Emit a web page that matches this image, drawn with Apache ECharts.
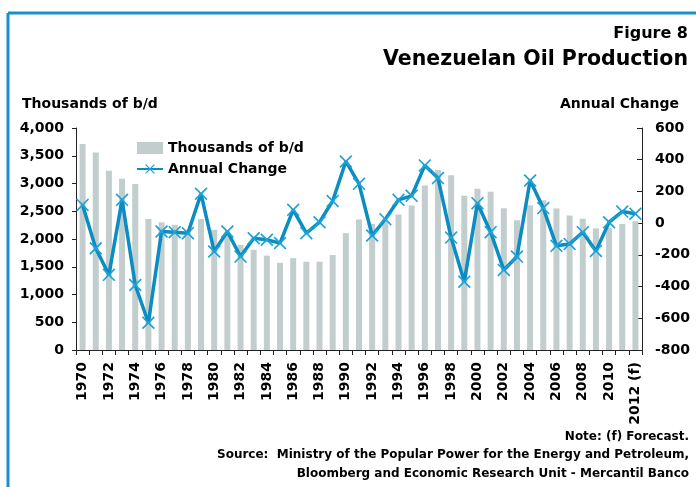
<!DOCTYPE html>
<html>
<head>
<meta charset="utf-8">
<script src="https://cdn.jsdelivr.net/npm/echarts@6/dist/echarts.min.js"></script>
<style>
  html, body { margin: 0; padding: 0; background: #fff; }
  #chart { width: 696px; height: 487px; }
</style>
</head>
<body>
<div id="chart"></div>
<script>
// Venezuelan oil production, 1970-2012 (2012 forecast)
const years = ['1970','1971','1972','1973','1974','1975','1976','1977','1978','1979',
  '1980','1981','1982','1983','1984','1985','1986','1987','1988','1989',
  '1990','1991','1992','1993','1994','1995','1996','1997','1998','1999',
  '2000','2001','2002','2003','2004','2005','2006','2007','2008','2009',
  '2010','2011','2012 (f)'];

// Thousands of barrels per day
const production = [3710, 3560, 3230, 3085, 2990, 2360, 2300, 2255, 2165, 2360,
  2165, 2110, 1895, 1805, 1700, 1570, 1655, 1590, 1590, 1710,
  2105, 2350, 2270, 2305, 2440, 2605, 2965, 3245, 3150, 2780,
  2905, 2850, 2555, 2340, 2610, 2700, 2550, 2425, 2365, 2190,
  2200, 2270, 2320];

// Annual change, thousands of b/d
const annualChange = [115, -158, -326, 147, -390, -628, -53, -57, -63, 185,
  -179, -53, -211, -95, -105, -126, 84, -63, 6, 140,
  389, 248, -78, 25, 147, 172, 364, 284, -91, -369,
  126, -57, -295, -211, 269, 95, -143, -131, -57, -175,
  6, 73, 59];

const leftTicks = { min: 0, max: 4000, interval: 500 };
const rightTicks = { min: -800, max: 600, interval: 200 };

const FONT = 'DejaVu Sans';
const BLUE = '#0b8dc3';
const BAR = '#c2cdcd';
const AXIS = '#222';

const chart = echarts.init(document.getElementById('chart'), null, { renderer: 'canvas' });

const xMarker = 'path://M0,1.1L1.1,0L12,10.9L10.9,12Z M10.9,0L12,1.1L1.1,12L0,10.9Z';

chart.setOption({
  backgroundColor: '#fff',
  animation: false,
  textStyle: { fontFamily: FONT, fontWeight: 'bold', color: '#000' },
  grid: { left: 76, right: 54, top: 128, bottom: 137 },
  legend: {
    orient: 'vertical',
    left: 131,
    top: 136,
    itemWidth: 26,
    itemHeight: 12,
    itemGap: 7,
    textStyle: { fontFamily: FONT, fontWeight: 'bold', fontSize: 14, color: '#000' },
    data: [{ name: 'Thousands of b/d', icon: 'rect' }, 'Annual Change']
  },
  graphic: [
    { type: 'line', shape: { x1: 8, y1: 13, x2: 700, y2: 13 }, style: { stroke: '#1b8fc8', lineWidth: 3 } },
    { type: 'line', shape: { x1: 8, y1: 13, x2: 8, y2: 495 }, style: { stroke: '#1b8fc8', lineWidth: 3 } },
    { type: 'text', right: 8, top: 26, style: { text: 'Figure 8', font: 'bold 16px "DejaVu Sans"', fill: '#000' } },
    { type: 'text', right: 8, top: 49, style: { text: 'Venezuelan Oil Production', font: 'bold 20.5px "DejaVu Sans"', fill: '#000' } },
    { type: 'text', left: 22, top: 97, style: { text: 'Thousands of b/d', font: 'bold 14px "DejaVu Sans"', fill: '#000' } },
    { type: 'text', right: 17, top: 97, style: { text: 'Annual Change', font: 'bold 14px "DejaVu Sans"', fill: '#000' } },
    { type: 'text', right: 7, top: 431, style: { text: 'Note: (f) Forecast.', font: 'bold 12px "DejaVu Sans"', fill: '#000' } },
    { type: 'text', right: 7, top: 449, style: { text: 'Source:  Ministry of the Popular Power for the Energy and Petroleum,', font: 'bold 12px "DejaVu Sans"', fill: '#000' } },
    { type: 'text', right: 7, top: 468, style: { text: 'Bloomberg and Economic Research Unit - Mercantil Banco', font: 'bold 12px "DejaVu Sans"', fill: '#000' } }
  ],
  xAxis: {
    type: 'category',
    data: years,
    boundaryGap: true,
    axisLine: { onZero: false, lineStyle: { color: AXIS, width: 1 } },
    axisTick: { show: true, interval: 0, alignWithLabel: false, length: 5, lineStyle: { color: AXIS } },
    axisLabel: {
      interval: 1,
      rotate: 90,
      margin: 12,
      fontFamily: FONT,
      fontWeight: 'bold',
      fontSize: 14,
      color: '#000'
    },
    splitLine: { show: false }
  },
  yAxis: [
    {
      type: 'value',
      position: 'left',
      min: leftTicks.min,
      max: leftTicks.max,
      interval: leftTicks.interval,
      axisLine: { show: true, lineStyle: { color: AXIS, width: 1 } },
      axisTick: { show: true, length: 4, lineStyle: { color: AXIS } },
      axisLabel: {
        margin: 12,
        fontFamily: FONT,
        fontWeight: 'bold',
        fontSize: 14,
        color: '#000',
        formatter: v => v.toLocaleString('en-US')
      },
      splitLine: { show: false }
    },
    {
      type: 'value',
      position: 'right',
      min: rightTicks.min,
      max: rightTicks.max,
      interval: rightTicks.interval,
      axisLine: { show: true, lineStyle: { color: AXIS, width: 1 } },
      axisTick: { show: true, inside: true, length: 5, lineStyle: { color: AXIS } },
      axisLabel: {
        margin: 13,
        fontFamily: FONT,
        fontWeight: 'bold',
        fontSize: 14,
        color: '#000'
      },
      splitLine: { show: false }
    }
  ],
  series: [
    {
      name: 'Thousands of b/d',
      type: 'bar',
      yAxisIndex: 0,
      data: production,
      barWidth: 6,
      itemStyle: { color: BAR }
    },
    {
      name: 'Annual Change',
      type: 'line',
      yAxisIndex: 1,
      data: annualChange,
      symbol: xMarker,
      symbolSize: 13,
      showAllSymbol: true,
      lineStyle: { color: BLUE, width: 3.5 },
      itemStyle: { color: '#1ea3d6' },
      z: 3
    }
  ]
});
</script>
</body>
</html>
